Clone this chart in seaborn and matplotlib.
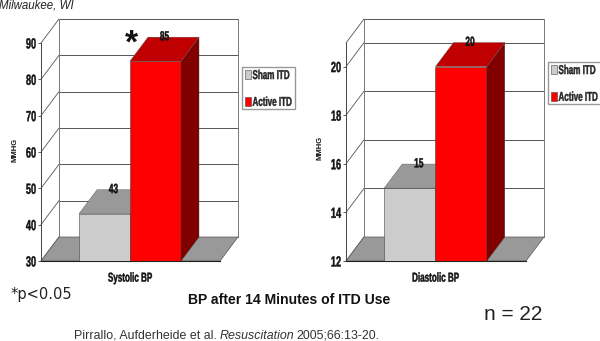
import matplotlib
matplotlib.use("Agg")
import matplotlib.pyplot as plt
import pandas as pd
import seaborn as sns
from matplotlib.patches import Polygon
from matplotlib.patheffects import AbstractPathEffect
from matplotlib.transforms import Affine2D

# -----------------------------------
# Data
# -----------------------------------

groups = ["Sham ITD", "Active ITD"]
systolic_values = [43, 85]
diastolic_values = [15, 20]
systolic_ticks = [30, 40, 50, 60, 70, 80, 90]
diastolic_ticks = [12, 14, 16, 18, 20]

sns.set_theme(style="white")
plt.rcParams["font.family"] = ["Liberation Sans", "DejaVu Sans"]

W, H = 600, 341
fig = plt.figure(figsize=(W / 100, H / 100), dpi=100, facecolor="white")

WIDE = ["Liberation Sans"]
WALL_DARK = "#555555"
DEPTH_X, DEPTH_Y = 18, 24  # pixels


# The chart labels are a squeezed narrow bold: small font stretched upward
class TallText(AbstractPathEffect):

    def __init__(self, stretch, weight):
        super().__init__()
        self.stretch = stretch
        self.weight = weight

    def draw_path(self, renderer, gc, tpath, affine, rgbFace=None):
        # glyph paths are in units of 1/100 em, caps are centred near 36
        tall = Affine2D().translate(0, -36).scale(1, self.stretch).translate(0, 36)
        gc0 = renderer.new_gc()
        gc0.copy_properties(gc)
        gc0.set_linewidth(self.weight)
        renderer.draw_path(gc0, tpath, tall + affine, rgbFace)
        gc0.restore()


TALL = [TallText(1.6, 0.3)]


def draw_panel(left, right, label, values, ticks, y_top, legend_xy):

    ax = fig.add_axes([left / W, (H - 261) / H, (right - left) / W, 218 / H])

    df = pd.DataFrame({"cat": [label, label], "group": groups, "value": values})
    sns.barplot(
        data=df, x="cat", y="value", hue="group", ax=ax,
        palette=["#cccccc", "#ff0000"], hue_order=groups,
        saturation=1, width=0.8, edgecolor="#444444", linewidth=0.4,
        zorder=3
    )

    x_unit = (right - left) / 1.404
    ax.set_xlim(-(right - left) * 0.4972 / x_unit,
                (right - left) * 0.5028 / x_unit)
    ax.set_ylim(ticks[0], y_top)

    dx = DEPTH_X / x_unit
    dy = DEPTH_Y * (y_top - ticks[0]) / 218
    x0, x1 = ax.get_xlim()
    base = ticks[0]

    # back wall and floor
    ax.add_patch(Polygon(
        [(x0, base), (x1, base), (x1 + dx, base + dy), (x0 + dx, base + dy)],
        closed=True, facecolor="#999999", edgecolor="#555555", linewidth=0.5,
        zorder=1.5, clip_on=False
    ))
    wall_lines = list(ticks)
    if y_top != ticks[-1]:
        wall_lines.append(y_top)
    for t in wall_lines:
        ax.plot([x0 + dx, x1 + dx], [t + dy, t + dy], color=WALL_DARK, lw=0.7,
                zorder=1, clip_on=False)
        ax.plot([x0, x0 + dx], [t, t + dy], color=WALL_DARK, lw=0.6,
                zorder=1, clip_on=False)
    ax.plot([x0 + dx, x0 + dx], [base + dy, y_top + dy], color="#777777", lw=0.7,
            zorder=1, clip_on=False)
    ax.plot([x1 + dx, x1 + dx], [base + dy, y_top + dy], color="#777777", lw=0.7,
            zorder=1, clip_on=False)

    # bar tops, sides and value labels
    tops = ["#999999", "#c00000"]
    sides = ["#666666", "#800000"]
    for i, container in enumerate(ax.containers):
        bar = container[0]
        a = bar.get_x()
        b = a + bar.get_width()
        v = bar.get_height()
        ax.add_patch(Polygon(
            [(a, v), (b, v), (b + dx, v + dy), (a + dx, v + dy)],
            closed=True, facecolor=tops[i], edgecolor="#555555", linewidth=0.3,
            zorder=2.5 + i * 0.8, clip_on=False
        ))
        ax.add_patch(Polygon(
            [(b, base), (b, v), (b + dx, v + dy), (b + dx, base + dy)],
            closed=True, facecolor=sides[i], edgecolor="#444444", linewidth=0.3,
            zorder=2.4 + i * 0.8, clip_on=False
        ))
        ax.text((a + b + dx) / 2, v + dy, str(values[i]), ha="center", va="center",
                fontsize=6, fontweight="bold", family=WIDE, color="#111111",
                zorder=5, clip_on=False, path_effects=TALL)

    # axes
    sns.despine(ax=ax, top=True, right=True)
    ax.spines["left"].set_color("#444444")
    ax.spines["bottom"].set_color("#222222")
    ax.spines["left"].set_linewidth(0.7)
    ax.spines["bottom"].set_linewidth(0.8)
    ax.set_yticks(ticks)
    ax.set_yticklabels([str(t) for t in ticks], fontsize=6.6, fontweight="bold",
                       family=WIDE, color="#111111", path_effects=TALL)
    ax.tick_params(axis="y", length=2, width=0.6, pad=1.5, left=True, color="#444444")
    ax.set_xticks([0])
    ax.set_xticklabels([label], fontsize=5.8, fontweight="bold", family=WIDE,
                       color="#111111", path_effects=TALL)
    ax.tick_params(axis="x", length=0, pad=10)
    ax.set_xlabel("")
    ax.set_ylabel("")

    handles, labels = ax.get_legend_handles_labels()
    legend = ax.legend(
        handles, labels, loc="upper left",
        bbox_to_anchor=(legend_xy[0] / W, 1 - legend_xy[1] / H),
        bbox_transform=fig.transFigure, borderaxespad=0, frameon=True,
        fancybox=False, framealpha=1, edgecolor="#999999", title=None,
        prop={"family": WIDE, "weight": "bold", "size": 5.8},
        handlelength=0.75, handleheight=1.3, handletextpad=0.15,
        borderpad=0.4, labelspacing=2.2
    )
    for text in legend.get_texts():
        text.set_path_effects(TALL)
    return ax


ax1 = draw_panel(41, 220, "Systolic BP", systolic_values, systolic_ticks, 90, (242, 67))
ax2 = draw_panel(346, 526, "Diastolic BP", diastolic_values, diastolic_ticks, 20.97, (548, 62))

# -----------------------------------
# Text around the charts
# -----------------------------------


def put(x, y, s, **kw):
    fig.text(x / W, 1 - y / H, s, **kw)


put(-1, 5, "Milwaukee, WI", fontsize=8.3, style="italic", family=WIDE,
    color="#222222", va="center")
put(15, 150, "MMHG", fontsize=5.5, fontweight="bold", family=WIDE, rotation=90,
    ha="center", va="center", color="#111111")
put(320, 148, "MMHG", fontsize=5.5, fontweight="bold", family=WIDE, rotation=90,
    ha="center", va="center", color="#111111")
put(131, 44, "*", fontsize=24, fontweight="bold", family=WIDE, ha="center",
    va="center", color="#111111")
put(10.5, 294, "*p<0.05", fontsize=10.5, family=["DejaVu Sans"], va="center",
    color="#222222")
put(289, 300, "BP after 14 Minutes of ITD Use", fontsize=10.05, fontweight="bold",
    family=WIDE, ha="center", va="center", color="#111111")
put(484, 315, "n = 22", fontsize=15, family=WIDE, va="center", color="#222222")
put(74, 339, "Pirrallo, Aufderheide et al.", fontsize=8.9, family=WIDE, va="baseline",
    color="#333333")
put(219.5, 339, "Resuscitation", fontsize=8.9, family=WIDE, style="italic", va="baseline",
    color="#333333")
put(296, 339, "2005;66:13-20.", fontsize=8.9, family=WIDE, va="baseline",
    color="#333333")

fig.savefig("out.png", dpi=100, facecolor="white")
